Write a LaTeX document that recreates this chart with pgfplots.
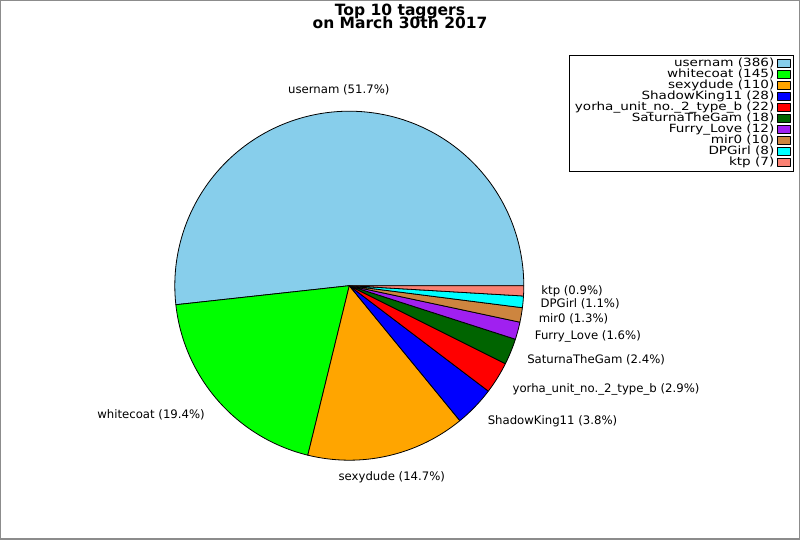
\documentclass[border=0pt]{standalone}
\usepackage{pgfplots}
\usepackage{pgfplotstable}
\pgfplotsset{compat=1.18}
\usepackage{fontspec}
\setmainfont{DejaVu Sans}
\newfontfamily\legfont[FakeStretch=1.2]{DejaVu Sans}

\definecolor{cUser}{RGB}{135,206,235}
\definecolor{cWhite}{RGB}{0,255,0}
\definecolor{cSexy}{RGB}{255,165,0}
\definecolor{cShadow}{RGB}{0,0,255}
\definecolor{cYorha}{RGB}{255,0,0}
\definecolor{cSat}{RGB}{0,100,0}
\definecolor{cFurry}{RGB}{160,32,240}
\definecolor{cMir}{RGB}{205,133,63}
\definecolor{cDP}{RGB}{0,255,255}
\definecolor{cKtp}{RGB}{250,128,114}
\definecolor{frame}{RGB}{140,140,140}

% counts of the ten taggers (slice order)
\pgfplotstableread{
slice value
0 386
1 145
2 110
3 28
4 22
5 18
6 12
7 10
8 8
9 7
}\pietable

\pgfplotstablegetrowsof{\pietable}
\pgfmathtruncatemacro\pien{\pgfplotsretval-1}
\xdef\pietotal{0}
\foreach \i in {0,...,\pien}{%
  \pgfplotstablegetelem{\i}{value}\of\pietable
  \pgfmathsetmacro\tmp{\pietotal+\pgfplotsretval}%
  \xdef\pietotal{\tmp}%
}
\pgfmathsetmacro\piescale{360/\pietotal}
\xdef\piescale{\piescale}
\xdef\piecum{0}
\foreach \i in {0,...,\pien}{%
  \pgfplotstablegetelem{\i}{value}\of\pietable
  \pgfmathsetmacro\tmpE{\piecum+\piescale*\pgfplotsretval}%
  \pgfmathsetmacro\tmpM{(\piecum+\tmpE)/2}%
  \expandafter\xdef\csname pieS\i\endcsname{\piecum}%
  \expandafter\xdef\csname pieE\i\endcsname{\tmpE}%
  \expandafter\xdef\csname pieM\i\endcsname{\tmpM}%
  \xdef\piecum{\tmpE}%
}

\def\cx{349.3}
\def\cy{254.3}
\def\rr{174.5}
\def\rlx{192}
\def\rly{196}

\newcommand\labfont{\fontsize{11.7bp}{14bp}\selectfont}

% #1 index, #2 colour, #3 legend text, #4 label text, #5 anchor
\newcommand\pieslice[5]{%
  \addplot[fill=#2, draw=black, line width=0.8bp, line join=round,
    domain=\csname pieS#1\endcsname:\csname pieE#1\endcsname,
    samples=120, variable=\t]
    ({\cx+\rr*cos(\t)},{\cy+\rr*sin(\t)}) -- (axis cs:\cx,\cy) -- cycle;
  \addlegendentry{#3}
  \node[anchor=#5, inner sep=0pt, font=\labfont] at
    (axis cs:{\cx+\rlx*cos(\csname pieM#1\endcsname)},{\cy+\rly*sin(\csname pieM#1\endcsname)}) {#4};
}

\begin{document}
\begin{tikzpicture}
\begin{axis}[
  width=800bp, height=540bp, scale only axis,
  xmin=0, xmax=800, ymin=0, ymax=540,
  hide axis, clip=false,
  legend plot pos=right,
  legend cell align=right,
  legend style={at={(axis cs:794,485)}, anchor=north east, draw=black,
    line width=0.8bp, font=\legfont\fontsize{11.3bp}{11bp}\selectfont,
    inner xsep=3bp, inner ysep=3bp, row sep=0pt,
    nodes={inner xsep=3bp, inner ysep=0pt, text height=8bp, text depth=3bp}},
  legend image code/.code={%
    \draw[#1, draw=black, line width=0.6bp] (3.5bp,-3.5bp) rectangle (10.5bp,4bp);
    \path (0bp,-3.5bp) rectangle (12.5bp,4bp);},
]
\pieslice{0}{cUser}{usernam (386)}{usernam (51.7\%)}{center}
\pieslice{1}{cWhite}{whitecoat (145)}{whitecoat (19.4\%)}{east}
\pieslice{2}{cSexy}{sexydude (110)}{sexydude (14.7\%)}{center}
\pieslice{3}{cShadow}{ShadowKing11 (28)}{ShadowKing11 (3.8\%)}{west}
\pieslice{4}{cYorha}{yorha\_unit\_no.\_2\_type\_b (22)}{yorha\_unit\_no.\_2\_type\_b (2.9\%)}{west}
\pieslice{5}{cSat}{SaturnaTheGam (18)}{SaturnaTheGam (2.4\%)}{west}
\pieslice{6}{cFurry}{Furry\_Love (12)}{Furry\_Love (1.6\%)}{west}
\pieslice{7}{cMir}{mir0 (10)}{mir0 (1.3\%)}{west}
\pieslice{8}{cDP}{DPGirl (8)}{DPGirl (1.1\%)}{west}
\pieslice{9}{cKtp}{ktp (7)}{ktp (0.9\%)}{west}

\node[anchor=base, font=\bfseries\fontsize{15.5bp}{13bp}\selectfont, inner sep=0pt] at (axis cs:400,524) {Top 10 taggers};
\node[anchor=base, font=\bfseries\fontsize{15.5bp}{13bp}\selectfont, inner sep=0pt] at (axis cs:400,511) {on March 30th 2017};

\draw[frame, line width=1.5bp] (axis cs:0.75,0.75) rectangle (axis cs:799.25,539.25);
\end{axis}
\end{tikzpicture}
\end{document}
